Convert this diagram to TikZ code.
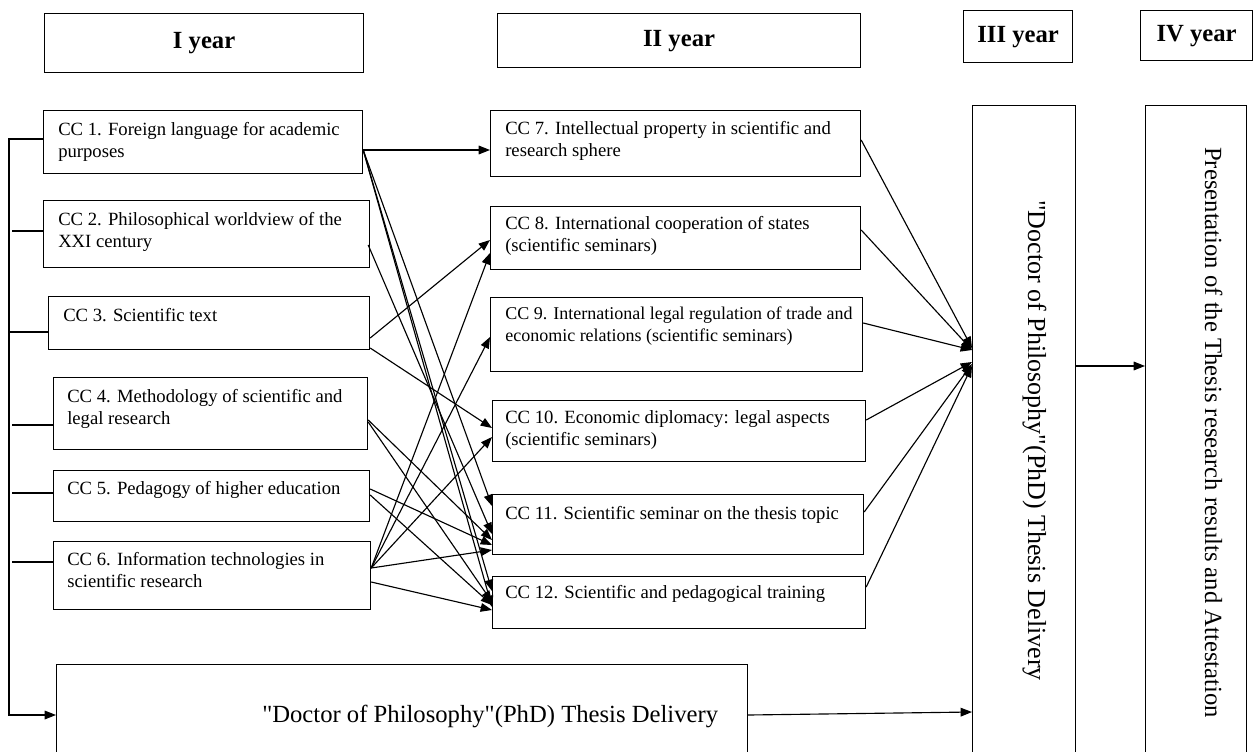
\documentclass[tikz,border=0pt]{standalone}
\usepackage{fontspec}
\setmainfont{Liberation Serif}
\usetikzlibrary{arrows.meta,calc}

\tikzset{
  cbox/.style 2 args={draw, line width=0.9pt, anchor=north west, inner sep=0pt, minimum width=#1*0.75pt, minimum height=#2*0.75pt},
  colbox/.style 2 args={draw, line width=0.7pt, anchor=north west, inner sep=0pt, minimum width=#1*0.75pt, minimum height=#2*0.75pt},
  hdtext/.style={font=\bfseries\fontsize{18.5}{21}\selectfont},
  cctext/.style={anchor=north west, inner sep=0pt, align=left, font=\fontsize{14}{16.5}\selectfont},
  bigtext/.style={inner sep=0pt, font=\fontsize{18.5}{22}\selectfont},
  arr/.style={line width=0.85pt, -{Triangle[length=8.5pt,width=6.5pt]}},
  busline/.style={line width=0.85pt}
}

\begin{document}
\begin{tikzpicture}[x=0.75pt,y=0.75pt,yscale=-1,xscale=1]
\useasboundingbox (0,0) rectangle (1254,751);

% Year headers
\node[cbox={319}{59}, hdtext] (h1) at (44,13) {I year};
\node[cbox={363}{54}, hdtext] (h2) at (497,13) {II year};
\node[cbox={109}{52}, hdtext] (h3) at (963,10) {III year};
\node[cbox={112}{50}, hdtext] (h4) at (1140,10) {IV year};

% I year courses
\node[cbox={319}{63}] (cc1) at (43,110) {};
\node[cbox={326}{67}] (cc2) at (43,200) {};
\node[cbox={321}{53}] (cc3) at (48,296) {};
\node[cbox={314}{72}] (cc4) at (53,377) {};
\node[cbox={316}{51}] (cc5) at (53,470) {};
\node[cbox={317}{68}] (cc6) at (53,541) {};

% Text Node
\node[cctext] (t1) at ($(cc1.north west)+(15,12)$) {CC 1. Foreign language for academic\\purposes};
\node[cctext] (t2) at ($(cc2.north west)+(15,12)$) {CC 2. Philosophical worldview of the\\XXI century};
\node[cctext] (t3) at ($(cc3.north west)+(15,12)$) {CC 3. Scientific text};
\node[cctext] (t4) at ($(cc4.north west)+(14,12)$) {CC 4. Methodology of scientific and\\legal research};
\node[cctext] (t5) at ($(cc5.north west)+(14,11)$) {CC 5. Pedagogy of higher education};
\node[cctext] (t6) at ($(cc6.north west)+(14,11)$) {CC 6. Information technologies in\\scientific research};

% II year courses
\node[cbox={370}{66}] (cc7) at (490,110) {};
\node[cbox={370}{63}] (cc8) at (490,206) {};
\node[cbox={372}{74}] (cc9) at (490,297) {};
\node[cbox={373}{61}] (cc10) at (492,400) {};
\node[cbox={371}{60}] (cc11) at (492,494) {};
\node[cbox={373}{52}] (cc12) at (492,576) {};

% Text Node
\node[cctext] (t7) at ($(cc7.north west)+(15,11)$) {CC 7. Intellectual property in scientific and\\research sphere};
\node[cctext] (t8) at ($(cc8.north west)+(15,10)$) {CC 8. International cooperation of states\\(scientific seminars)};
\node[cctext, font=\fontsize{13.5}{16}\selectfont] (t9) at ($(cc9.north west)+(15,10)$) {CC 9. International legal regulation of trade and\\economic relations (scientific seminars)};
\node[cctext] (t10) at ($(cc10.north west)+(13,10)$) {CC 10. Economic diplomacy: legal aspects\\(scientific seminars)};
\node[cctext] (t11) at ($(cc11.north west)+(13,12)$) {CC 11. Scientific seminar on the thesis topic};
\node[cctext] (t12) at ($(cc12.north west)+(13,9)$) {CC 12. Scientific and pedagogical training};

% III and IV year columns, thesis box
\node[colbox={103}{660}] (yr3) at (972,105) {};
\node[colbox={101}{660}] (yr4) at (1145,105) {};
\node[cbox={691}{95}] (thesis) at (56,664) {};

% Text Node
\node[bigtext, anchor=base west] (t0) at (262,722) {\textquotedbl Doctor of Philosophy\textquotedbl(PhD) Thesis Delivery};
\node[bigtext, rotate=-90, anchor=base west, font=\fontsize{19.5}{22}\selectfont] (t13) at (1028,200) {\textquotedbl Doctor of Philosophy\textquotedbl(PhD) Thesis Delivery};
\node[bigtext, rotate=-90, anchor=base west] (t14) at (1205,147) {Presentation of the Thesis research results and Attestation};

% Left bracket
\coordinate (busend) at (9,715);
\draw[arr] ($(cc1.north west)+(0,29)$) -| (busend) -- (thesis.west |- busend);
\draw[busline] ($(cc2.north west)+(0,31)$) -- ++(-31,0);
\draw[busline] ($(cc3.north west)+(0,36)$) -- ++(-40,0);
\draw[busline] ($(cc4.north west)+(0,48)$) -- ++(-41,0);
\draw[busline] ($(cc5.north west)+(0,23)$) -- ++(-41,0);
\draw[busline] ($(cc6.north west)+(0,21)$) -- ++(-41,0);

%Straight Lines: I year to II year
\draw[arr] ($(cc1.north east)+(0,40)$) -- ($(cc7.north west)+(0,40)$);
\draw[arr] ($(cc1.north east)+(0,40)$) -- ($(cc11.north west)+(0,12)$);
\draw[arr] ($(cc1.north east)+(0,40)$) -- ($(cc12.north west)+(0,15)$);
\draw[arr] ($(cc1.north east)+(0,40)$) -- ($(cc12.north west)+(0,31)$);
\draw[arr] ($(cc2.north east)+(-2,45)$) -- ($(cc11.north west)+(0,40)$);
\draw[arr] ($(cc3.north east)+(0,42)$) -- ($(cc8.north west)+(0,34)$);
\draw[arr] ($(cc3.north east)+(0,52)$) -- ($(cc10.north west)+(0,28)$);
\draw[arr] ($(cc4.north east)+(0,43)$) -- ($(cc11.north west)+(0,46)$);
\draw[arr] ($(cc4.north east)+(0,45)$) -- ($(cc12.north west)+(0,26)$);
\draw[arr] ($(cc5.north east)+(0,19)$) -- ($(cc11.north west)+(0,51)$);
\draw[arr] ($(cc5.north east)+(0,25)$) -- ($(cc12.north west)+(0,29)$);
\draw[arr] ($(cc6.north east)+(0,27)$) -- ($(cc8.north west)+(0,47)$);
\draw[arr] ($(cc6.north east)+(0,27)$) -- ($(cc9.north west)+(0,40)$);
\draw[arr] ($(cc6.north east)+(0,27)$) -- ($(cc10.north west)+(0,37)$);
\draw[arr] ($(cc6.north east)+(0,27)$) -- ($(cc11.north west)+(0,56)$);
\draw[arr] ($(cc6.north east)+(0,41)$) -- ($(cc12.north west)+(0,34)$);

%Straight Lines: II year to III year
\draw[arr] ($(cc7.north east)+(0,30)$) -- ($(yr3.north west)+(0,243)$);
\draw[arr] ($(cc8.north east)+(0,24)$) -- ($(yr3.north west)+(0,245)$);
\draw[arr] ($(cc9.north east)+(0,26)$) -- ($(yr3.north west)+(0,245)$);
\draw[arr] ($(cc10.north east)+(0,20)$) -- ($(yr3.north west)+(0,257)$);
\draw[arr] ($(cc11.north east)+(0,18)$) -- ($(yr3.north west)+(0,259)$);
\draw[arr] ($(cc12.north east)+(0,11)$) -- ($(yr3.north west)+(0,261)$);
\draw[arr] ($(thesis.north east)+(0,51)$) -- ($(yr3.north west)+(0,607)$);

%Straight Lines: III year to IV year
\draw[arr] ($(yr3.north east)+(0,261)$) -- ($(yr4.north west)+(0,261)$);

\end{tikzpicture}
\end{document}
